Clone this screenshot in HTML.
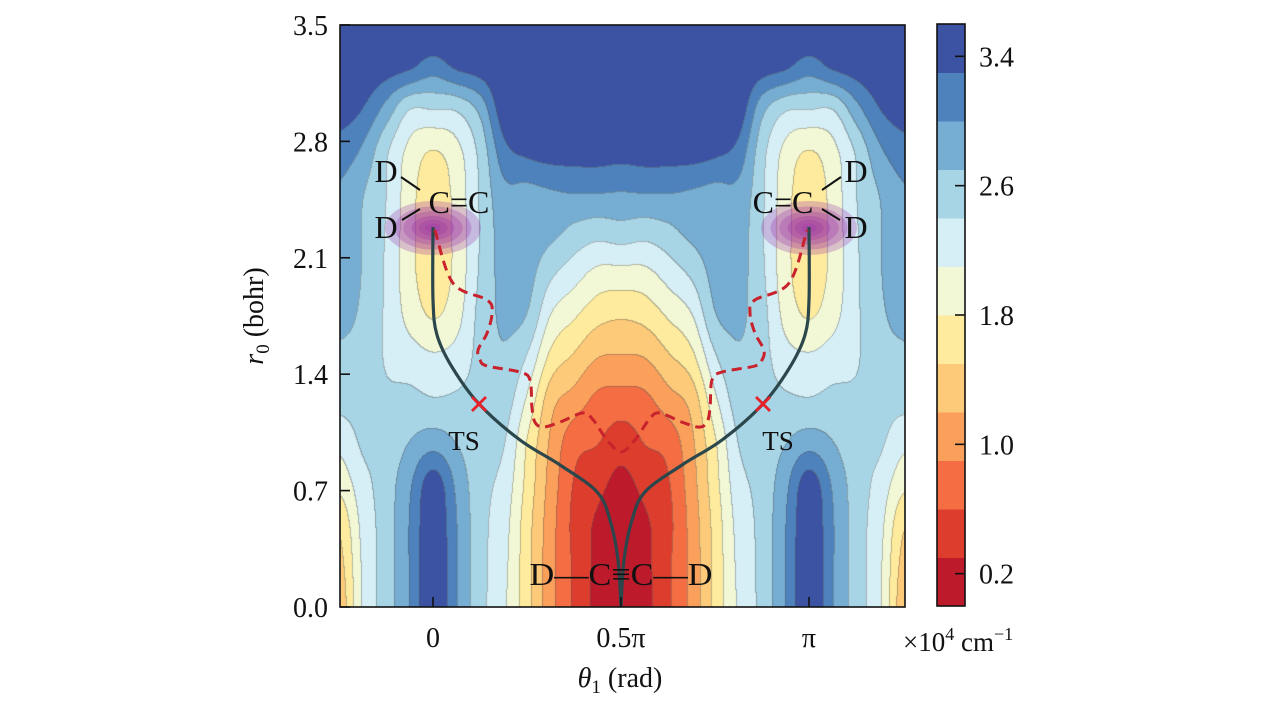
<!DOCTYPE html>
<html>
<head>
<meta charset="utf-8">
<style>
  html,body{margin:0;padding:0;background:#fff;}
  #wrap{position:relative;width:1276px;height:709px;overflow:hidden;background:#fff;}
  #field{position:absolute;left:340px;top:25px;}
  #overlay{position:absolute;left:0;top:0;}
  text{font-family:"Liberation Serif","DejaVu Serif",serif;fill:#111;}
</style>
</head>
<body>
<div id="wrap">
<canvas id="field" width="565" height="582"></canvas>
<svg id="overlay" width="1276" height="709">
  <g id="blobs"></g>
  <g id="paths"></g>
  <g id="marks"></g>
  <g id="labels">
    <text x="386" y="182" font-size="32" text-anchor="middle">D</text>
    <text x="386" y="238" font-size="32" text-anchor="middle">D</text>
    <text x="459" y="213" font-size="32" text-anchor="middle">C=C</text>
    <line x1="401" y1="177" x2="420" y2="190" stroke="#111" stroke-width="2"/>
    <line x1="402" y1="220" x2="420" y2="209" stroke="#111" stroke-width="2"/>
    <text x="856" y="182" font-size="32" text-anchor="middle">D</text>
    <text x="856" y="238" font-size="32" text-anchor="middle">D</text>
    <text x="783" y="213" font-size="32" text-anchor="middle">C=C</text>
    <line x1="841" y1="177" x2="822" y2="190" stroke="#111" stroke-width="2"/>
    <line x1="840" y1="220" x2="822" y2="209" stroke="#111" stroke-width="2"/>
    <text x="621" y="585" font-size="32" text-anchor="middle" textLength="183" lengthAdjust="spacingAndGlyphs">D—C≡C—D</text>
    <text x="464" y="450" font-size="27" text-anchor="middle">TS</text>
    <text x="778" y="450" font-size="27" text-anchor="middle">TS</text>
  </g>
  <rect x="340" y="25" width="565" height="582" fill="none" stroke="#111" stroke-width="1.6"/>
  <g id="yaxis"></g>
  <g id="xaxis"></g>
  <text transform="translate(263,316) rotate(-90)" font-size="28" text-anchor="middle"><tspan font-style="italic">r</tspan><tspan font-size="19" dy="6">0</tspan><tspan dy="-6"> (bohr)</tspan></text>
  <text x="620" y="687" font-size="28" text-anchor="middle"><tspan font-style="italic">θ</tspan><tspan font-size="19" dy="6">1</tspan><tspan dy="-6"> (rad)</tspan></text>
  <g id="cbar"></g>
  <text x="903" y="651" font-size="27">×10<tspan font-size="18" dy="-11">4</tspan><tspan dy="11"> cm</tspan><tspan font-size="18" dy="-11">−1</tspan></text>
</svg>
</div>
<script>
// ---- data ----
// half grid of energies (×10^4 cm^-1); columns theta = -0.25π .. 0.5π step π/16; rows r = 0 .. 3.5 bohr step 0.25
const thetaStart = -0.25;
const thetaStep = 1/16;
const rStep = 0.25;
const halfGrid = [
 [1.30,2.15,2.55,3.02,3.60,3.00,2.50,2.15,1.60,1.00,0.55,0.20,0.05],
 [1.40,2.15,2.55,3.02,3.60,3.00,2.50,2.18,1.60,1.00,0.55,0.22,0.06],
 [1.55,2.20,2.55,3.02,3.55,3.00,2.50,2.22,1.62,1.02,0.52,0.25,0.10],
 [1.90,2.30,2.55,2.95,3.45,2.92,2.50,2.30,1.70,1.08,0.58,0.40,0.22],
 [2.20,2.45,2.50,2.70,2.85,2.68,2.48,2.42,1.78,1.15,0.72,0.62,0.45],
 [2.50,2.50,2.45,2.48,2.42,2.45,2.50,2.55,2.05,1.32,1.08,0.83,0.78],
 [2.65,2.60,2.37,2.25,2.15,2.22,2.50,2.66,2.36,1.71,1.45,1.20,1.17],
 [2.76,2.65,2.35,2.00,1.78,2.00,2.50,2.75,2.68,2.08,1.83,1.60,1.53],
 [2.84,2.68,2.35,1.90,1.62,1.90,2.45,2.80,2.80,2.45,2.22,2.00,1.98],
 [2.90,2.68,2.37,1.90,1.56,1.90,2.42,2.84,2.85,2.78,2.60,2.50,2.55],
 [2.96,2.72,2.40,1.92,1.60,1.92,2.45,2.92,2.92,2.98,3.02,3.02,3.00],
 [3.18,2.95,2.45,2.02,1.80,2.02,2.50,3.20,3.38,3.45,3.45,3.45,3.42],
 [3.45,3.30,2.90,2.42,2.42,2.45,2.80,3.50,3.60,3.60,3.60,3.60,3.58],
 [3.60,3.55,3.45,3.35,3.15,3.35,3.45,3.60,3.60,3.60,3.60,3.60,3.60],
 [3.60,3.60,3.60,3.60,3.60,3.60,3.60,3.60,3.60,3.60,3.60,3.60,3.60]
];
const levelStep = 0.3;
const bandColors = ["#bd1a2c","#dd3d2d","#f46d43","#fba05b","#fdca79","#feeb9d","#f2f8d6","#d6eef5","#a8d5e6","#76add2","#4d82bc","#3c53a3"];
const yTicks = [0.0,0.7,1.4,2.1,2.8,3.5];
const yTickLabels = ["0.0","0.7","1.4","2.1","2.8","3.5"];
const xTicks = [0,0.5,1];
const xTickLabels = ["0","0.5π","π"];
const cbarTicks = [0.2,1.0,1.8,2.6,3.4];
const cbarTickLabels = ["0.2","1.0","1.8","2.6","3.4"];
// reaction paths (theta in units of π, r in bohr), left half
const solidTheta = [0,0,0.0106,0.0505,0.1223,0.2314,0.3378,0.4362,0.4707,0.4920,0.5];
const solidR = [2.285,1.846,1.636,1.443,1.221,1.004,0.854,0.692,0.523,0.283,0];
const dashTheta = [0.005,0.053,0.144,0.157,0.144,0.120,0.125,0.144,0.231,0.258,0.263,0.271,0.293,0.338,0.399,0.426,0.463,0.5];
const dashR = [2.267,1.948,1.846,1.768,1.648,1.546,1.485,1.449,1.413,1.365,1.203,1.112,1.082,1.112,1.167,1.125,1.004,0.932];
const tsTheta = [0.1223,0.8777];
const tsR = [1.221,1.221];
const blobTheta = [0,1];
const blobR = [2.285,2.285];

// ---- axes ----
const X0 = 433, XPI = 376, Y0 = 607, YU = 166.3;
function xs(t){return X0 + t*XPI;}
function ys(r){return Y0 - r*YU;}
const CB_TOP = 24, CB_BOT = 606, CB_MAX = 3.6;
function cy(v){return CB_BOT - v/CB_MAX*(CB_BOT-CB_TOP);}

// ---- field ----
const nHalf = halfGrid[0].length;
const nCols = nHalf*2-1;
function gridVal(row,col){
  row = Math.max(0,Math.min(halfGrid.length-1,row));
  col = Math.max(0,Math.min(nCols-1,col));
  if(col>=nHalf) col = nCols-1-col;
  return halfGrid[row][col];
}
function cr(p0,p1,p2,p3,t){return 0.5*((2*p1)+(-p0+p2)*t+(2*p0-5*p1+4*p2-p3)*t*t+(-p0+3*p1-3*p2+p3)*t*t*t);}
function sample(theta,r){
  const gx=(theta-thetaStart)/thetaStep, gy=r/rStep;
  const i=Math.floor(gx), j=Math.floor(gy), fx=gx-i, fy=gy-j;
  const rows=[];
  for(let k=-1;k<=2;k++){
    rows.push(cr(gridVal(j+k,i-1),gridVal(j+k,i),gridVal(j+k,i+1),gridVal(j+k,i+2),fx));
  }
  return cr(rows[0],rows[1],rows[2],rows[3],fy);
}
function hex(c){return [parseInt(c.slice(1,3),16),parseInt(c.slice(3,5),16),parseInt(c.slice(5,7),16)];}
const rgb = bandColors.map(hex);
(function draw(){
  const cv=document.getElementById('field'); const ctx=cv.getContext('2d');
  const W=cv.width,H=cv.height; const img=ctx.createImageData(W,H);
  const band=new Int8Array(W*H);
  for(let py=0;py<H;py++){
    const r=(Y0-(25+py+0.5))/YU;
    for(let px=0;px<W;px++){
      const t=((340+px+0.5)-X0)/XPI;
      let b=Math.floor(sample(t,r)/levelStep);
      b=Math.max(0,Math.min(bandColors.length-1,b));
      band[py*W+px]=b;
    }
  }
  for(let py=0;py<H;py++){
    for(let px=0;px<W;px++){
      const k=py*W+px, b=band[k]; let c=rgb[b];
      const edge=(px>0&&band[k-1]!==b)||(py>0&&band[k-W]!==b);
      let R=c[0],G=c[1],B=c[2];
      if(edge){R=R*0.6+85*0.4;G=G*0.6+85*0.4;B=B*0.6+85*0.4;}
      img.data[k*4]=R;img.data[k*4+1]=G;img.data[k*4+2]=B;img.data[k*4+3]=255;
    }
  }
  ctx.putImageData(img,0,0);
})();

// ---- overlay ----
const NS='http://www.w3.org/2000/svg';
function mk(tag,attrs,parent){const e=document.createElementNS(NS,tag);for(const k in attrs)e.setAttribute(k,attrs[k]);parent.appendChild(e);return e;}
function smooth(pts){
  let d='M'+pts[0][0].toFixed(1)+','+pts[0][1].toFixed(1);
  for(let i=0;i<pts.length-1;i++){
    const p0=pts[Math.max(0,i-1)],p1=pts[i],p2=pts[i+1],p3=pts[Math.min(pts.length-1,i+2)];
    const c1=[p1[0]+(p2[0]-p0[0])/6,p1[1]+(p2[1]-p0[1])/6];
    const c2=[p2[0]-(p3[0]-p1[0])/6,p2[1]-(p3[1]-p1[1])/6];
    d+=' C'+c1[0].toFixed(1)+','+c1[1].toFixed(1)+' '+c2[0].toFixed(1)+','+c2[1].toFixed(1)+' '+p2[0].toFixed(1)+','+p2[1].toFixed(1);
  }
  return d;
}
// blobs
const blobG=document.getElementById('blobs');
for(let b=0;b<blobTheta.length;b++){
  const cx=xs(blobTheta[b]), cyy=ys(blobR[b]);
  const scales=[1,0.8,0.62,0.45,0.3,0.16];
  scales.forEach(function(s,i){
    const e=mk('ellipse',{cx:cx,cy:cyy+1,rx:48*s,ry:27*s,fill:'rgba(150,45,165,0.27)'},blobG);
    
    
  });
}
// paths
const pathG=document.getElementById('paths');
const solidL=solidTheta.map(function(t,i){return [xs(t),ys(solidR[i])];});
const solidRt=solidTheta.map(function(t,i){return [xs(1-t),ys(solidR[i])];});
let p=mk('path',{d:smooth(solidL),fill:'none',stroke:'#2b474c','stroke-width':3.2},pathG);


p=mk('path',{d:smooth(solidRt),fill:'none',stroke:'#2b474c','stroke-width':3.2},pathG);


const dashPts=dashTheta.map(function(t,i){return [xs(t),ys(dashR[i])];});
for(let i=dashTheta.length-2;i>=0;i--){dashPts.push([xs(1-dashTheta[i]),ys(dashR[i])]);}
p=mk('path',{d:smooth(dashPts),fill:'none',stroke:'#c8222c','stroke-width':3,'stroke-dasharray':'10 6'},pathG);


// TS markers
const markG=document.getElementById('marks');
for(let i=0;i<tsTheta.length;i++){
  const x=xs(tsTheta[i]),y=ys(tsR[i]);
  const g=mk('g',{},markG);
  
  
  mk('line',{x1:x-7,y1:y-7,x2:x+7,y2:y+7,stroke:'#e8202a','stroke-width':2.8},g);
  mk('line',{x1:x-7,y1:y+7,x2:x+7,y2:y-7,stroke:'#e8202a','stroke-width':2.8},g);
}
// y axis
const yG=document.getElementById('yaxis');
yTicks.forEach(function(v,i){
  const y=ys(v);
  const l=mk('line',{x1:340,y1:y,x2:350,y2:y,stroke:'#111','stroke-width':1.6},yG);
  
  
  const t=mk('text',{x:328,y:y+10,'font-size':28,'text-anchor':'end'},yG);
  t.textContent=yTickLabels[i];
  
  
});
// x axis
const xG=document.getElementById('xaxis');
xTicks.forEach(function(v,i){
  const x=xs(v);
  const l=mk('line',{x1:x,y1:607,x2:x,y2:597,stroke:'#111','stroke-width':1.6},xG);
  
  
  const t=mk('text',{x:x,y:647,'font-size':28,'text-anchor':'middle'},xG);
  t.textContent=xTickLabels[i];
  
  
});
// colorbar
const cG=document.getElementById('cbar');
bandColors.forEach(function(c,i){
  const y1=cy((i+1)*levelStep), y2=cy(i*levelStep);
  const r=mk('rect',{x:937,y:y1,width:28,height:y2-y1+0.5,fill:c},cG);
  
  
});
let fr=mk('rect',{x:937,y:CB_TOP,width:28,height:CB_BOT-CB_TOP,fill:'none',stroke:'#111','stroke-width':1.6},cG);


cbarTicks.forEach(function(v,i){
  const y=cy(v);
  const l=mk('line',{x1:955,y1:y,x2:965,y2:y,stroke:'#111','stroke-width':1.6},cG);
  
  
  const t=mk('text',{x:979,y:y+10,'font-size':28},cG);
  t.textContent=cbarTickLabels[i];
  
  
});
</script>
</body>
</html>
